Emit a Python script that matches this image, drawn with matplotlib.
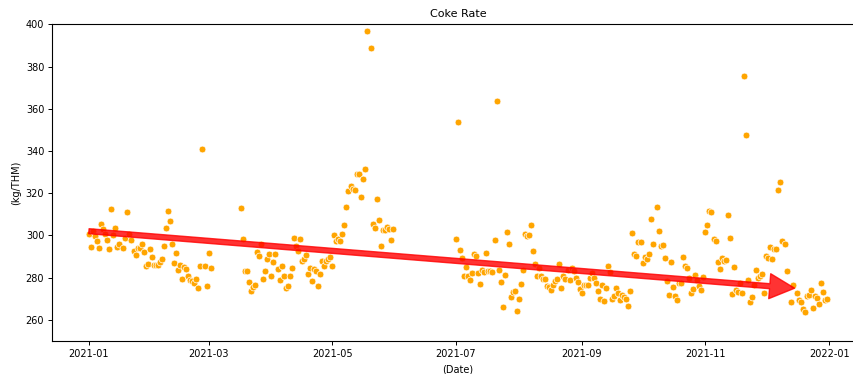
import matplotlib
matplotlib.use("Agg")
import matplotlib.pyplot as plt
import matplotlib.dates as mdates
import pandas as pd

start = pd.Timestamp("2021-01-01")

# Day offsets from 1 Jan 2021 and the daily coke rate (kg/THM)
days_jan_feb = list(range(0, 16)) + list(range(17, 61))
rate_jan_feb = [
    300.5, 294.5, 302.2, 299.9, 297.2, 294.0, 305.3, 303.0, 300.7, 297.7,
    293.6, 312.5, 300.1, 303.6, 294.5, 295.8,
    294.0, 298.6, 311.1, 300.7, 297.7, 292.5, 290.9, 293.9, 293.9, 295.9,
    292.3, 285.7, 286.6, 293.6, 289.9, 286.1, 286.1, 286.1, 287.4, 289.0,
    295.0, 303.6, 311.4, 307.0, 295.9, 286.8, 291.8, 283.5, 285.9, 279.4,
    284.9, 284.0, 280.9, 278.9, 278.4, 277.6, 279.4, 275.3, 285.7, 340.9,
    285.4, 276.1, 291.8, 284.4,
]

days_mar_may = list(range(75, 138)) + list(range(139, 151))
rate_mar_may = [
    312.9, 298.2, 283.2, 283.2, 278.0, 273.9, 275.5, 276.5, 292.3, 290.4,
    295.8, 279.4, 283.0, 288.8, 291.4, 280.7, 287.3, 291.4, 284.3, 278.9,
    285.7, 280.7, 275.3, 276.1, 280.7, 284.4, 298.6, 295.0, 292.6, 298.2,
    288.0, 288.7, 290.9, 281.6, 284.4, 278.4, 284.0, 283.2, 276.1, 281.7,
    288.0, 285.3, 287.8, 288.7, 289.9, 285.7, 300.1, 297.2, 298.2, 297.2,
    300.5, 305.1, 313.3, 321.0, 323.2, 321.8, 321.6, 328.9, 328.9, 318.0,
    326.5, 331.7, 397.0,
    388.8, 305.3, 303.6, 317.1, 307.4, 295.0, 302.4, 302.4, 304.0, 303.2,
    297.7, 303.2,
]

days_jul_dec = (list(range(181, 279)) + list(range(280, 345))
                + [346, 347] + list(range(349, 365)))
rate_jul_dec = [
    298.2, 353.8, 293.1, 289.5, 280.7, 285.2, 280.8, 278.8, 282.1, 291.4,
    290.4, 282.1, 277.0, 283.5, 282.6, 291.7, 283.0, 283.0, 282.6, 297.7,
    363.9, 283.8, 278.0, 266.0, 281.1, 301.5, 295.9, 270.7, 273.1, 273.6,
    264.2, 269.8, 277.0, 283.8, 300.7, 299.7, 300.1, 305.1, 292.6, 286.3,
    280.8, 284.4, 280.8, 279.2, 279.2, 276.2, 275.7, 274.3, 276.7, 278.3,
    279.5, 286.3, 275.1, 280.8, 279.4, 283.8, 279.1, 284.4, 283.0, 279.9,
    278.0, 274.7, 272.8, 276.7, 276.4, 276.7, 279.9, 282.2, 280.0, 277.5,
    273.6, 269.8, 276.5, 268.8, 275.1, 285.4, 282.7, 269.8, 271.5, 275.1,
    272.9, 269.3, 271.7, 270.7, 269.8, 266.5, 273.8, 301.0, 291.4, 290.4,
    296.7, 296.7, 287.1, 289.6, 288.9, 291.0, 307.8, 295.9,
    313.3, 301.9, 294.9, 295.5, 289.5, 278.3, 272.0, 287.2, 275.6, 271.5,
    269.3, 277.5, 277.5, 289.9, 285.5, 284.4, 280.0, 272.5, 274.4, 281.2,
    278.8, 276.1, 274.3, 280.3, 301.5, 305.0, 311.5, 311.1, 298.3, 297.4,
    287.6, 284.0, 289.5, 287.9, 288.2, 309.7, 298.6, 272.1, 284.9, 274.0,
    273.0, 277.6, 272.9, 375.4, 347.4, 279.1, 268.7, 270.7, 276.6, 283.5,
    279.9, 280.8, 281.7, 272.9, 290.4, 289.5, 294.5, 288.8, 293.4, 293.6,
    321.6, 325.4, 297.4, 295.8, 283.0,
    268.4, 276.5,
    272.6, 269.5, 268.4, 265.2, 263.6, 271.5, 272.0, 274.3, 265.5, 271.2,
    270.5, 267.4, 277.6, 273.4, 269.6, 269.8,
]

# Trend arrow end points (date, kg/THM)
trend_start = ("2021-01-01", 302.0)
trend_end = ("2021-12-15", 275.0)

days = days_jan_feb + days_mar_may + days_jul_dec
rates = rate_jan_feb + rate_mar_may + rate_jul_dec
dates = start + pd.to_timedelta(days, unit="D")

fig = plt.figure(figsize=(8.54, 3.74), dpi=100)
ax = fig.add_axes([52 / 854, 1 - 341 / 374, (864 - 52) / 854, (341 - 24.3) / 374])

ax.scatter(dates, rates, s=24, color="orange", edgecolors="white",
           linewidths=0.5, zorder=2)

ax.annotate("", xy=(pd.Timestamp(trend_end[0]), trend_end[1]),
            xytext=(pd.Timestamp(trend_start[0]), trend_start[1]),
            arrowprops=dict(color="red", alpha=0.8, width=3.6,
                            headwidth=18, headlength=18, shrink=0),
            zorder=3)

ax.set_ylim(250, 400)
ax.set_yticks(range(260, 401, 20))
ax.xaxis.set_major_locator(mdates.MonthLocator(bymonth=[1, 3, 5, 7, 9, 11]))
ax.xaxis.set_major_formatter(mdates.DateFormatter("%Y-%m"))

ax.tick_params(labelsize=7.0, length=2.6, width=0.7, pad=3)
for sp in ax.spines.values():
    sp.set_linewidth(0.8)

ax.set_title("Coke Rate", fontsize=8, pad=5)
ax.set_xlabel("(Date)", fontsize=7.0, labelpad=4)
ax.set_ylabel("(kg/THM)", fontsize=7.0, labelpad=3)

fig.savefig("out.png", dpi=100)
